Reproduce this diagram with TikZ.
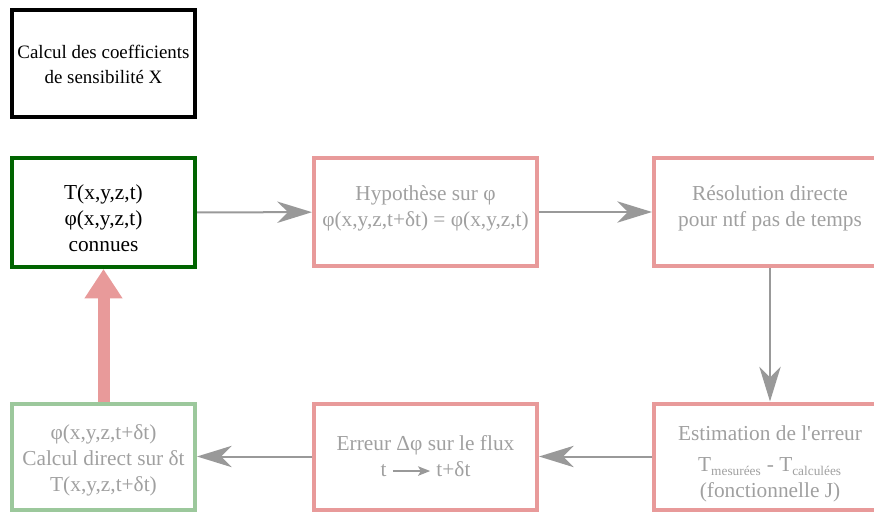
\documentclass[tikz,border=0pt]{standalone}
\usepackage{fontspec}
\setmainfont{Liberation Serif}[Ligatures=TeXOff]
\usetikzlibrary{arrows.meta}
\definecolor{pinkb}{HTML}{E89A9A}
\definecolor{darkg}{HTML}{006400}
\definecolor{lightg}{HTML}{9CC89C}
\definecolor{grayt}{HTML}{A0A0A0}
\definecolor{graya}{HTML}{999999}
\tikzset{
  box/.style={draw, line width=3pt, rectangle, align=center, inner sep=0pt,
    font=\fontsize{16}{19.5}\selectfont},
  blackbox/.style={box, draw=black, text=black, font=\fontsize{14.2}{18.8}\selectfont},
  greenbox/.style={box, draw=darkg, text=black},
  pinkbox/.style={box, draw=pinkb, text=grayt},
  lgreenbox/.style={box, draw=lightg, text=grayt},
  conn/.style={draw=graya, line width=1.5pt, -{Stealth[length=26pt, width=16pt, inset=8pt]}},
  bigarrow/.style={draw=pinkb, line width=9pt, -{Triangle[length=22pt, width=27pt]}}
}
\newcommand{\lowr}[2]{\raisebox{-#1}{\begin{tabular}{@{}c@{}}#2\end{tabular}}}
\begin{document}
\begin{tikzpicture}[x=0.75pt,y=-0.75pt]
\useasboundingbox (0,0) rectangle (874,513);
\node[blackbox, minimum width=0.75pt*183, minimum height=0.75pt*107] (A) at (103.5,64) {Calcul des coefficients\\de sensibilité X};
\node[greenbox, minimum width=0.75pt*183, minimum height=0.75pt*109] (B) at (103.5,212.5) {\rule{0pt}{20pt}T(x,y,z,t)\\φ(x,y,z,t)\\connues};
\node[pinkbox, minimum width=0.75pt*223, minimum height=0.75pt*108] (C) at (425.5,212) {Hypothèse sur φ\\φ(x,y,z,t+δt) = φ(x,y,z,t)\rule[-9pt]{0pt}{1pt}};
\node[pinkbox, minimum width=0.75pt*232, minimum height=0.75pt*108] (D) at (770,212) {Résolution directe\\pour ntf pas de temps\rule[-9pt]{0pt}{1pt}};
\node[lgreenbox, minimum width=0.75pt*183, minimum height=0.75pt*106] (E) at (103.5,456.5) {\rule{0pt}{17pt}φ(x,y,z,t+δt)\\Calcul direct sur δt\\T(x,y,z,t+δt)};
\node[pinkbox, minimum width=0.75pt*223, minimum height=0.75pt*106] (F) at (425.5,456.5) {Erreur Δφ sur le flux\\t\hspace{4pt}\tikz[baseline=-0.6ex]\draw[graya, line width=1.5pt, -{Stealth[length=9pt,width=7pt,inset=2pt]}] (0,0) -- (28pt,0);\hspace{4pt}t+δt};
\node[pinkbox, minimum width=0.75pt*232, minimum height=0.75pt*106] (G) at (770,456.5) {\rule{0pt}{22pt}Estimation de l'erreur\\[4pt]T\textsubscript{\fontsize{10}{10}\selectfont mesurées} - T\textsubscript{\fontsize{10}{10}\selectfont calculées}\\(fonctionnelle J)};
\draw[conn] (B) -- (C);
\draw[conn] (C) -- (D);
\draw[conn] (D) -- (G);
\draw[conn] (G) -- (F);
\draw[conn] (F) -- (E);
\draw[bigarrow] (E) -- (B);
\end{tikzpicture}
\end{document}
